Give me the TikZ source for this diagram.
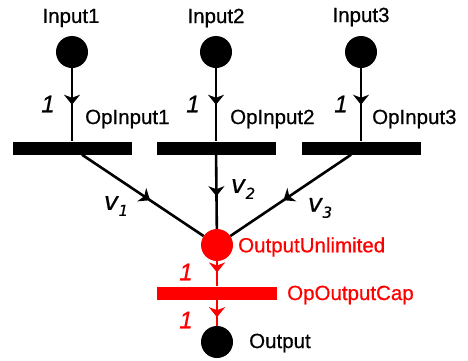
\documentclass[tikz,border=0pt]{standalone}
\usepackage{fontspec}
\setmainfont{Liberation Sans}[FakeBold=0.6]
\newfontfamily\mathish{DejaVu Sans}[FakeBold=0.6]
\usetikzlibrary{arrows.meta,decorations.markings}
\begin{document}
\begin{tikzpicture}[x=1pt,y=-1pt,
  place/.style={circle,fill=black,minimum size=32pt,inner sep=0pt},
  bar/.style={rectangle,fill=black,minimum width=119pt,minimum height=13pt,inner sep=0pt},
  lbl/.style={font=\fontsize{20.5}{20.5}\selectfont,inner sep=0pt},
  wt/.style={font=\fontsize{24}{24}\selectfont\itshape,inner sep=0pt},
  vl/.style={font=\fontsize{25}{25}\selectfont\mathish\itshape,inner sep=0pt},
  >={Stealth[length=10pt,width=16pt,inset=3pt]},
  arc/.style={line width=2.6pt,postaction={decorate},
    decoration={markings,mark=at position #1 with {\arrow{>}}}}
  ]
\path[use as bounding box,fill=white] (0,0) rectangle (468,360);
% inputs
\node[place] (in1) at (72,52) {};
\node[place] (in2) at (216,52) {};
\node[place] (in3) at (361,52) {};
\node[lbl] (lin1) at (71,18) {Input1};
\node[lbl] (lin2) at (216,18) {Input2};
\node[lbl] (lin3) at (361,17) {Input3};
% bars
\node[bar] (op1) at (72,148) {};
\node[bar] (op2) at (216,148) {};
\node[bar] (op3) at (361,148) {};
\node[lbl,anchor=west] (lop1) at (85,119) {OpInput1};
\node[lbl,anchor=west] (lop2) at (230,119) {OpInput2};
\node[lbl,anchor=west] (lop3) at (372,119) {OpInput3};
% arcs in
\draw[arc=0.5] (in1) -- (op1);
\draw[arc=0.5] (in2) -- (op2);
\draw[arc=0.5] (in3) -- (op3);
\node[wt] (w1) at (48,104) {1};
\node[wt] (w2) at (193,104) {1};
\node[wt] (w3) at (341,104) {1};
% output unlimited
\node[place,fill=red] (ou) at (217,245) {};
\draw[arc=0.56] (op1) -- (ou);
\draw[arc=0.56] (op2) -- (ou);
\draw[arc=0.56] (op3) -- (ou);
\node[vl] (v1) at (116,206) {v\raisebox{-6pt}{\fontsize{15}{15}\selectfont 1}};
\node[vl] (v2) at (243,189) {v\raisebox{-6pt}{\fontsize{15}{15}\selectfont 2}};
\node[vl] (v3) at (320,208) {v\raisebox{-6pt}{\fontsize{15}{15}\selectfont 3}};
\node[lbl,anchor=west,red] (lou) at (238,247) {OutputUnlimited};
% cap
\node[bar,fill=red,minimum width=120pt] (cap) at (217,293) {};
\node[lbl,anchor=west,red] (lcap) at (287,295) {OpOutputCap};
\node[place] (out) at (217,342) {};
\node[lbl,anchor=west] (lout) at (249,343) {Output};
\draw[arc=0.45,red] (ou) -- (cap);
\draw[arc=0.67,red] (cap) -- (out);
\node[wt,red] (w4) at (186,272) {1};
\node[wt,red] (w5) at (186,320) {1};
\end{tikzpicture}
\end{document}
